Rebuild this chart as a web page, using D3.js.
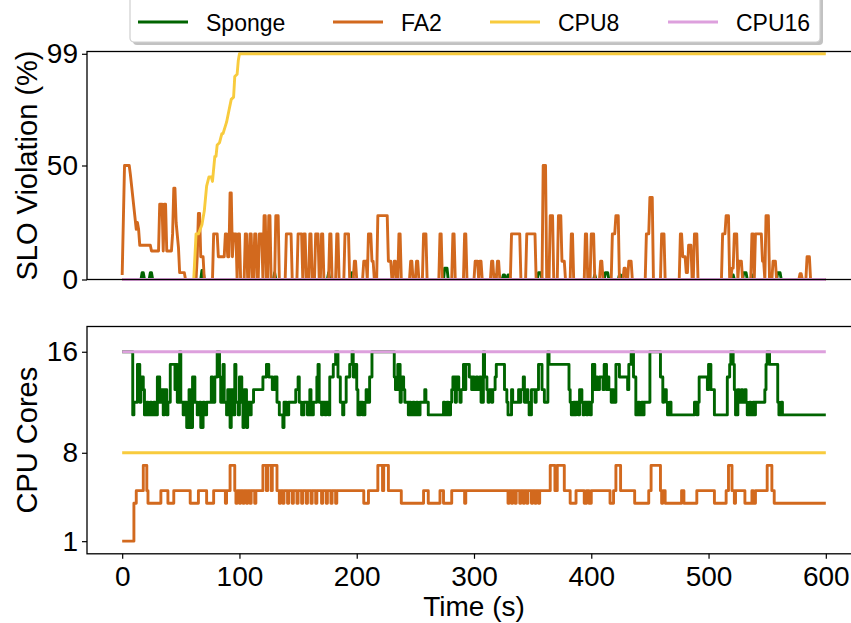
<!DOCTYPE html>
<html>
<head>
<meta charset="utf-8">
<script src="https://cdn.jsdelivr.net/npm/d3@7/dist/d3.min.js"></script>
<style>
  body { margin: 0; background: #fff; }
  svg { font-family: "Liberation Sans", Arial, Helvetica, sans-serif; }
</style>
</head>
<body>
<div id="chart"></div>
<script>
// ---- data ----
var seriesNames = ["Sponge", "FA2", "CPU8", "CPU16"];
var seriesColors = ["#006400", "#D2691E", "#F8CB3D", "#DDA0DD"];

var timeTicks = [0, 100, 200, 300, 400, 500, 600];
var sloTicks = [0, 50, 99];
var coreTicks = [1, 8, 16];

// SLO violation (%) -- FA2 start, given as [t, value] points
var sloFA2Start = [[0,2],[2,50],[6,50],[7,46],[12,22],[13,25],[14,22],[15,15],[24,15],[25,12.5],[31,12.5],
  [32,33],[34,33],[35,12.5],[36,33],[37,33],[38,12.5],[42,12.5],[43,20],[44,40],[45,40],[46,25],[48,14],
  [49,3],[53,3],[54,0],[63,0],[64,10],[65,29],[66,29],[67,10],[69,10],[70,0],[77,0],[78,20],[81,20],
  [82,10],[87,10],[88,20],[89,20],[90,10],[91,10],[92,38],[93,38],[94,10],[95,20],[97,20],[98,0]];

// later FA2 violations as spikes: [from, to, value]
var sloFA2Spikes = [[99,100,20],[105,106,20],[109,110,20],[113,114,20],[117,119,20],[121,122,28],
  [125,126,28],[131,133,28],[140,144,20],[150,153,20],[155,156,20],[160,161,20],[165,167,20],[170,171,20],
  [177,178,20],[183,184,20],[190,193,20],[198,199,8],[206,208,8],[210,212,20],[213,214,8],[218,226,28],
  [227,229,8],[232,233,8],[236,237,20],[246,247,8],[251,252,8],[257,259,20],[271,272,20],[282,283,20],
  [292,293,20],[301,303,8],[305,306,8],[315,316,8],[320,321,8],[332,339,20],[345,352,20],[359,361,50],
  [365,367,28],[372,374,28],[375,377,8],[383,384,20],[395,396,20],[400,402,20],[408,409,8],[418,420,20],
  [421,423,28],[428,429,5],[432,434,8],[447,449,20],[450,452,36],[460,462,20],[476,477,20],[478,480,10],
  [481,482,3],[483,485,15],[488,490,20],[512,514,20],[515,517,28],[520,521,5],[522,524,20],[526,528,8],
  [537,538,20],[540,545,20],[546,547,8],[549,551,28],[555,557,8],[578,579,2.5],[584,586,10]];

var sloSpongeBumps = [[17,18,3],[24,25,3],[68,69,4],[130,130,3],[176,176,3],[196,196,3],[275,277,5],
  [318,318,2],[325,326,2],[329,330,2],[355,357,3],[403,403,2],[412,414,3],[424,425,2],[521,521,2],
  [530,532,3],[537,537,2],[559,561,3]];

var sloCPU8 = [[0,0],[61,0],[63,20],[65,20],[68,24],[70,30],[72,41],[74,45],[76,45],[77,43],[79,54],
  [80,54],[81,59],[83,60],[85,64],[86,64],[89,69],[91,74],[93,79],[95,80],[96,89],[98,90],[99,96],
  [100,99],[600,99]];
var sloCPU16 = [[0,0],[600,0]];

// CPU cores, change points [t, cores]
var coresSponge = [[0,16],[9,11],[10,12],[13,15],[15,12],[16,14],[18,13],[19,11],[21,12],[22,11],[24,12],
  [25,11],[27,12],[28,11],[30,14],[32,12],[33,13],[35,11],[36,13],[38,11],[39,12],[41,15],[45,13],[46,15],
  [47,12],[49,16],[50,12],[52,11],[53,12],[55,10],[57,13],[58,10],[60,14],[62,12],[64,11],[66,12],[67,10],
  [69,12],[70,11],[72,12],[76,14],[77,12],[79,14],[81,16],[83,14],[84,12],[86,15],[87,12],[89,11],[90,13],
  [92,10],[93,13],[95,11],[96,15],[97,12],[99,11],[100,14],[102,12],[103,10],[104,13],[106,10],[107,12],
  [109,11],[110,12],[112,13],[120,14],[123,15],[125,14],[128,13],[130,14],[132,12],[134,11],[137,10],
  [138,12],[140,11],[142,12],[148,13],[150,14],[151,12],[153,11],[155,12],[158,11],[160,13],[161,11],
  [163,12],[166,14],[167,15],[168,12],[170,11],[171,12],[173,11],[174,12],[176,11],[177,14],[180,15],
  [182,16],[184,14],[186,12],[188,11],[189,12],[191,14],[194,15],[196,16],[197,14],[198,15],[200,13],
  [201,11],[203,12],[205,11],[207,12],[208,13],[209,12],[211,14],[213,16],[232,14],[233,13],[235,15],
  [237,12],[238,14],[240,13],[241,12],[244,11],[245,12],[246,11],[248,12],[249,11],[251,12],[252,11],
  [254,12],[258,13],[259,12],[261,11],[274,12],[275,11],[277,12],[278,11],[280,12],[281,13],[282,14],
  [284,12],[285,14],[287,13],[288,12],[289,13],[291,15],[292,13],[293,15],[296,14],[298,13],[299,14],
  [300,13],[302,14],[303,13],[305,14],[306,12],[308,16],[309,14],[311,13],[312,12],[313,13],[315,12],
  [316,13],[318,14],[319,15],[326,13],[328,12],[329,11],[332,13],[333,12],[338,13],[339,12],[340,13],
  [342,14],[343,12],[345,13],[346,12],[347,11],[349,13],[352,12],[353,13],[355,15],[358,13],[360,12],
  [363,16],[364,15],[381,13],[382,12],[383,11],[385,12],[386,11],[387,12],[389,11],[390,13],[392,12],
  [393,11],[394,12],[396,11],[397,12],[399,11],[400,12],[401,15],[403,13],[404,14],[405,13],[407,14],
  [410,13],[411,15],[413,13],[414,14],[415,13],[417,12],[418,13],[419,12],[421,15],[424,14],[431,13],
  [432,15],[434,16],[436,14],[438,11],[440,12],[441,11],[443,12],[444,11],[445,12],[450,16],[459,14],
  [461,12],[462,13],[464,12],[465,11],[467,12],[468,11],[488,12],[490,11],[491,12],[492,14],[499,13],
  [500,15],[502,13],[505,11],[516,14],[518,15],[519,16],[521,15],[522,13],[523,11],[525,13],[526,12],
  [528,13],[529,12],[531,13],[532,12],[533,11],[535,12],[536,11],[538,12],[539,11],[540,12],[548,13],
  [549,15],[550,16],[552,15],[559,12],[560,11],[562,12],[563,11],[600,11]];

var coresFA2 = [[0,1],[10,4],[12,5],[18,7],[21,5],[22,4],[33,5],[39,4],[44,5],[58,4],[65,5],[72,4],
  [78,5],[88,4],[89,5],[92,7],[96,5],[97,4],[98,5],[100,4],[101,5],[103,4],[104,5],[106,4],[107,5],
  [109,4],[110,5],[113,4],[114,5],[120,7],[123,5],[124,7],[127,5],[128,7],[132,5],[134,4],[135,5],
  [137,4],[138,5],[141,4],[142,5],[145,4],[146,5],[149,4],[150,5],[153,4],[154,5],[157,4],[158,5],
  [161,4],[162,5],[165,4],[166,5],[170,4],[171,5],[174,4],[175,5],[178,4],[179,5],[182,4],[183,5],
  [206,4],[210,5],[218,7],[222,5],[223,7],[227,5],[238,4],[257,5],[261,4],[271,5],[274,4],[281,5],
  [292,4],[293,5],[329,4],[330,5],[332,4],[333,5],[335,4],[336,5],[339,4],[340,5],[342,4],[343,5],
  [345,4],[346,5],[349,4],[350,5],[352,4],[353,5],[355,4],[356,5],[365,7],[369,5],[371,7],[377,5],
  [382,4],[387,5],[394,4],[396,5],[398,4],[400,5],[416,4],[419,5],[421,7],[425,5],[437,4],[449,5],
  [451,7],[459,5],[460,4],[461,5],[463,4],[477,5],[479,4],[490,5],[505,4],[515,5],[517,7],[520,5],
  [522,4],[523,5],[531,4],[537,5],[538,4],[540,5],[550,7],[554,5],[556,4],[600,4]];
var coresCPU8 = [[0,8],[600,8]];
var coresCPU16 = [[0,16],[600,16]];

// turns [from, to, value] spikes into a point list on a zero baseline
function spikesToPoints(head, spikes) {
    var pts = head.slice();
    spikes.forEach(function(s) {
        var last = pts[pts.length - 1];
        if (last && s[0] <= last[0]) pts.pop();
        else if (!last || s[0] - 1 > last[0]) pts.push([s[0] - 1, 0]);
        pts.push([s[0], s[2]]);
        if (s[1] > s[0]) pts.push([s[1], s[2]]);
        pts.push([s[1] + 1, 0]);
    });
    if (pts[pts.length - 1][0] < 600) pts.push([600, 0]);
    return pts;
}

var sloFA2 = spikesToPoints(sloFA2Start, sloFA2Spikes);
var sloSponge = spikesToPoints([[0,0]], sloSpongeBumps);

// ---- layout ----
var width = 851, height = 623;
var left = 87, right = 861;
var topPanel = {y0: 51.5, y1: 279.5};
var botPanel = {y0: 326.5, y1: 553.8};

var svg = d3.select("#chart").append("svg")
    .attr("width", width)
    .attr("height", height);

var x = d3.scaleLinear().domain([-30, 630]).range([left, right]);
var ySlo = d3.scaleLinear().domain([0, 100]).range([topPanel.y1, topPanel.y0]);
var yCores = d3.scaleLinear().domain([0, 18]).range([botPanel.y1, botPanel.y0]);

svg.append("clipPath").attr("id", "clipTop").append("rect")
    .attr("x", left).attr("y", topPanel.y0 - 2).attr("width", right - left).attr("height", topPanel.y1 - topPanel.y0 + 4);
svg.append("clipPath").attr("id", "clipBot").append("rect")
    .attr("x", left).attr("y", botPanel.y0).attr("width", right - left).attr("height", botPanel.y1 - botPanel.y0);

var lineSlo = d3.line()
    .x(function(d) { return x(d[0]); })
    .y(function(d) { return ySlo(d[1]); });

var lineCores = d3.line()
    .x(function(d) { return x(d[0]); })
    .y(function(d) { return yCores(d[1]); })
    .curve(d3.curveStepAfter);

// top panel lines
var gTop = svg.append("g").attr("clip-path", "url(#clipTop)");
[sloSponge, sloFA2, sloCPU8, sloCPU16].forEach(function(s, i) {
    gTop.append("path")
        .attr("d", lineSlo(s))
        .attr("fill", "none")
        .attr("stroke", seriesColors[i])
        .attr("stroke-width", 2.9)
        .attr("stroke-linejoin", "round");
});

// bottom panel lines
var gBot = svg.append("g").attr("clip-path", "url(#clipBot)");
[coresSponge, coresFA2, coresCPU8, coresCPU16].forEach(function(s, i) {
    gBot.append("path")
        .attr("d", lineCores(s))
        .attr("fill", "none")
        .attr("stroke", seriesColors[i])
        .attr("stroke-width", 2.9)
        .attr("stroke-linejoin", "round");
});

// frames
[topPanel, botPanel].forEach(function(p) {
    svg.append("rect")
        .attr("x", left).attr("y", p.y0)
        .attr("width", right - left).attr("height", p.y1 - p.y0)
        .attr("fill", "none")
        .attr("stroke", "#000")
        .attr("stroke-width", 1.3);
});

// axes
function styleAxis(g) {
    g.select(".domain").remove();
    g.selectAll(".tick line").attr("stroke", "#000").attr("stroke-width", 1.2);
    g.selectAll(".tick text").attr("font-size", "28px").attr("fill", "#000");
}

svg.append("g")
    .attr("transform", "translate(" + left + ",0)")
    .call(d3.axisLeft(ySlo).tickValues(sloTicks).tickSize(5).tickPadding(4))
    .call(styleAxis);

svg.append("g")
    .attr("transform", "translate(" + left + ",0)")
    .call(d3.axisLeft(yCores).tickValues(coreTicks).tickSize(5).tickPadding(4))
    .call(styleAxis);

svg.append("g")
    .attr("transform", "translate(0," + botPanel.y1 + ")")
    .call(d3.axisBottom(x).tickValues(timeTicks).tickSize(5).tickPadding(7))
    .call(styleAxis);

// axis titles
svg.append("text")
    .attr("transform", "translate(27," + (topPanel.y0 + topPanel.y1) / 2 + ") rotate(-90)")
    .attr("text-anchor", "middle")
    .attr("dy", "0.35em")
    .attr("font-size", "29px")
    .text("SLO Violation (%)");

svg.append("text")
    .attr("transform", "translate(27," + (botPanel.y0 + botPanel.y1) / 2 + ") rotate(-90)")
    .attr("text-anchor", "middle")
    .attr("dy", "0.35em")
    .attr("font-size", "29px")
    .text("CPU Cores");

svg.append("text")
    .attr("x", (left + right) / 2)
    .attr("y", 616)
    .attr("text-anchor", "middle")
    .attr("font-size", "28px")
    .text("Time (s)");

// legend (box runs off the top edge, with a drop shadow)
var legend = svg.append("g");
legend.append("rect")
    .attr("x", 133).attr("y", -12).attr("width", 690).attr("height", 57)
    .attr("rx", 4).attr("fill", "#999").attr("opacity", 0.6);
legend.append("rect")
    .attr("x", 130).attr("y", -15).attr("width", 690).attr("height", 57)
    .attr("rx", 4).attr("fill", "#fff").attr("stroke", "#cfcfcf").attr("stroke-width", 1.2);

var legendX = [138, 333, 490, 668];
seriesNames.forEach(function(name, i) {
    legend.append("line")
        .attr("x1", legendX[i]).attr("x2", legendX[i] + 50)
        .attr("y1", 22).attr("y2", 22)
        .attr("stroke", seriesColors[i])
        .attr("stroke-width", 3);
    legend.append("text")
        .attr("x", legendX[i] + 68)
        .attr("y", 31)
        .attr("font-size", "23px")
        .text(name);
});
</script>
</body>
</html>
